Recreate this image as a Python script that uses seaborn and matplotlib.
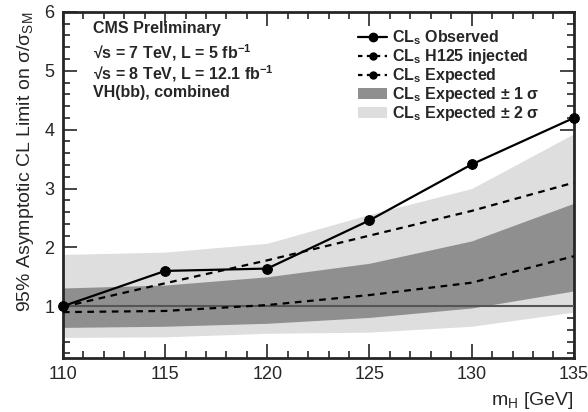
import numpy as np
import pandas as pd
import matplotlib
matplotlib.use("Agg")
import matplotlib.pyplot as plt
from matplotlib.lines import Line2D
from matplotlib.patches import Patch
from matplotlib.ticker import MultipleLocator
import seaborn as sns

# values
mass = [110, 115, 120, 125, 130, 135]
observed = [1.00, 1.60, 1.64, 2.46, 3.41, 4.20]
injected = [0.99, 1.39, 1.78, 2.20, 2.62, 3.10]
expected = [0.90, 0.92, 1.02, 1.19, 1.40, 1.85]
band1_lo = [0.64, 0.66, 0.71, 0.81, 0.97, 1.26]
band1_hi = [1.31, 1.36, 1.50, 1.73, 2.11, 2.75]
band2_lo = [0.47, 0.48, 0.54, 0.56, 0.66, 0.90]
band2_hi = [1.88, 1.92, 2.07, 2.56, 3.00, 3.93]

df = pd.DataFrame({'mH': mass, 'obs': observed, 'inj': injected, 'exp': expected})

sns.set_style("ticks")
plt.rcParams['font.family'] = ['Liberation Sans', 'DejaVu Sans']
plt.rcParams['mathtext.fontset'] = 'custom'
plt.rcParams['mathtext.rm'] = 'Liberation Sans'
plt.rcParams['mathtext.it'] = 'Liberation Sans'
plt.rcParams['mathtext.bf'] = 'Liberation Sans:bold'

fig = plt.figure(figsize=(5.88, 4.12), dpi=100)
ax = fig.add_axes([0.107, 0.131, 0.869, 0.84])

light = '#dedede'
dark = '#8f8f8f'
ax.fill_between(mass, band2_lo, band2_hi, color=light, lw=0, zorder=1)
ax.fill_between(mass, band1_lo, band1_hi, color=dark, lw=0, zorder=2)
ax.axhline(1.0, color='#555555', lw=1.5, zorder=3)

sns.lineplot(data=df, x='mH', y='exp', ax=ax, color='black', lw=1.6,
             linestyle=(0, (3, 2.5)), zorder=4)
sns.lineplot(data=df, x='mH', y='inj', ax=ax, color='black', lw=1.6,
             linestyle=(0, (3, 2.5)), zorder=4)
sns.lineplot(data=df, x='mH', y='obs', ax=ax, color='black', lw=1.6,
             marker='o', markersize=7, markeredgecolor='black', zorder=5,
             clip_on=False)

ax.set_xlim(110, 135)
ax.set_ylim(0.12, 6)
ax.xaxis.set_major_locator(MultipleLocator(5))
ax.xaxis.set_minor_locator(MultipleLocator(1))
ax.yaxis.set_major_locator(MultipleLocator(1))
ax.yaxis.set_minor_locator(MultipleLocator(0.2))
ax.tick_params(which='both', direction='in', top=True, right=True, width=1.2)
ax.tick_params(which='major', length=10, labelsize=13, pad=6)
ax.tick_params(which='minor', length=5)
ax.set_yticks([1, 2, 3, 4, 5, 6])
for s in ax.spines.values():
    s.set_linewidth(2)
    s.set_visible(True)

ax.set_xlabel('m$_\\mathregular{H}$ [GeV]', fontsize=14, loc='right', labelpad=5)
ax.set_ylabel('95% Asymptotic CL Limit on σ/σ$_\\mathregular{SM}$', fontsize=14, loc='top', labelpad=6)

txt = ['CMS Preliminary',
       '\u221as = 7 TeV, L = 5 fb$^{\\mathbf{-1}}$',
       '\u221as = 8 TeV, L = 12.1 fb$^{\\mathbf{-1}}$',
       'VH(bb), combined']
for i, t in enumerate(txt):
    ax.text(0.058, 0.975 - i * 0.062, t, transform=ax.transAxes, fontsize=11.5,
            fontweight='bold', va='top', ha='left')

handles = [
    Line2D([], [], color='black', lw=1.6, marker='o', markersize=6),
    Line2D([], [], color='black', lw=1.6, linestyle=(0, (2, 2)), marker='o', markersize=5),
    Line2D([], [], color='black', lw=1.6, linestyle=(0, (2, 2)), marker='o', markersize=5),
    Patch(facecolor=dark, edgecolor='none'),
    Patch(facecolor=light, edgecolor='none'),
]
labels = ['CL$_\\mathbf{s}$ Observed', 'CL$_\\mathbf{s}$ H125 injected', 'CL$_\\mathbf{s}$ Expected',
          'CL$_\\mathbf{s}$ Expected ± 1 σ', 'CL$_\\mathbf{s}$ Expected ± 2 σ']
leg = ax.legend(handles, labels, loc='upper right', bbox_to_anchor=(0.945, 0.97),
                frameon=False, fontsize=11.5, handlelength=1.8, handletextpad=0.3,
                labelspacing=0.0, borderaxespad=0)
for t in leg.get_texts():
    t.set_fontweight('bold')

fig.savefig('out.png', dpi=100)
